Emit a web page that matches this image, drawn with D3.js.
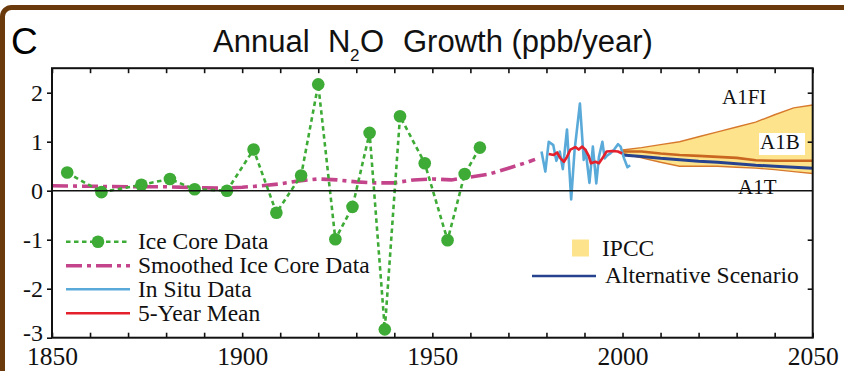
<!DOCTYPE html>
<html><head><meta charset="utf-8">
<script src="https://cdn.jsdelivr.net/npm/d3@7"></script>
<style>body{margin:0;background:#fff}</style>
</head><body><svg id="c" width="844" height="371"></svg>
<script>
// ---- data ----
const iceYears  = [1854, 1863, 1873.5, 1881, 1887.5, 1896, 1903, 1909, 1915.5, 1920, 1924.5, 1929, 1933.5, 1937.5, 1941.5, 1948, 1954, 1958.5, 1962.5];
const iceValues = [0.37, -0.03, 0.12, 0.24, 0.03, 0.0, 0.84, -0.45, 0.31, 2.17, -0.99, -0.33, 1.18, -2.83, 1.52, 0.56, -1.01, 0.34, 0.88];

const smoothYears  = [1850, 1860, 1870, 1880, 1890, 1895, 1900, 1905, 1910, 1915, 1920, 1925, 1930, 1935, 1940, 1945, 1950, 1955, 1960, 1965, 1970, 1975, 1977];
const smoothValues = [0.10, 0.09, 0.08, 0.08, 0.06, 0.05, 0.07, 0.10, 0.14, 0.20, 0.24, 0.22, 0.18, 0.16, 0.16, 0.22, 0.24, 0.22, 0.28, 0.34, 0.46, 0.58, 0.64];

const insituYears  = [1978.7, 1979.7, 1980.6, 1981.8, 1982.6, 1983.5, 1984.3, 1985.4, 1986.5, 1987.4, 1988.8, 1989.8, 1990.3, 1991.3, 1992.2, 1993.1, 1993.8, 1994.7, 1995.3, 1996.0, 1996.8, 1997.8, 1998.8, 1999.5, 2000.4, 2001.3, 2002.0];
const insituValues = [0.80, 0.39, 1.00, 0.93, 0.61, 0.80, 0.44, 1.25, -0.18, 0.83, 1.78, 0.63, 0.83, 0.16, 0.90, 0.15, 0.69, 1.00, 0.66, 0.72, 0.76, 0.84, 0.95, 0.90, 0.66, 0.48, 0.52];

const meanYears  = [1980.6, 1981.9, 1982.8, 1983.7, 1984.6, 1985.4, 1986.3, 1987.6, 1988.5, 1989.4, 1990.3, 1991.1, 1991.7, 1992.9, 1993.8, 1994.7, 1995.8, 1997.3, 1998.8, 1999.9];
const meanValues = [0.75, 0.73, 0.78, 0.66, 0.59, 0.69, 0.84, 0.89, 0.84, 0.90, 0.83, 0.71, 0.56, 0.59, 0.56, 0.66, 0.80, 0.81, 0.80, 0.76];

const scenYears  = [2000, 2005, 2010, 2015, 2020, 2025, 2030, 2035, 2040, 2045, 2050];
const a1fiValues = [0.83, 0.88, 0.94, 1.00, 1.10, 1.20, 1.30, 1.40, 1.55, 1.69, 1.75];
const a1bValues  = [0.80, 0.80, 0.76, 0.73, 0.71, 0.69, 0.67, 0.62, 0.61, 0.61, 0.61];
const a1tValues  = [0.76, 0.67, 0.58, 0.50, 0.50, 0.50, 0.48, 0.46, 0.43, 0.39, 0.35];
const altValues  = [0.73, 0.70, 0.66, 0.63, 0.60, 0.58, 0.55, 0.52, 0.50, 0.48, 0.46];

const xTickLabels = [1850, 1900, 1950, 2000, 2050];
const yTickLabels = [-3, -2, -1, 0, 1, 2];
const legendLeft  = ["Ice Core Data", "Smoothed Ice Core Data", "In Situ Data", "5-Year Mean"];
const legendRight = ["IPCC", "Alternative Scenario"];
const scenLabels  = ["A1FI", "A1B", "A1T"];

// ---- styles ----
const C = {green:"#3dab36", magenta:"#c4448b", blue:"#5aaad9", red:"#e3202b", alt:"#27438f", fill:"#fde38c", edge:"#d7792c", a1b:"#c9661f", brown:"#6b3a0c"};
const serif = "'Liberation Serif','Times New Roman',serif";
const sans = "'Liberation Sans',Arial,sans-serif";

const svg = d3.select("#c");
const x = d3.scaleLinear().domain([1850, 2050]).range([52, 812.7]);
const y = d3.scaleLinear().domain([-3, 2.5]).range([337.7, 68.2]);
const X0 = x(1850), X1 = x(2050), Y0 = y(2.5), Y1 = y(-3);

// border
svg.append("rect").attr("x", 2.5).attr("y", 7.5).attr("width", 950).attr("height", 500).attr("rx", 9)
  .attr("fill", "none").attr("stroke", C.brown).attr("stroke-width", 5);

// title
svg.append("text").attr("x", 11).attr("y", 53.5).style("font-family", sans).attr("font-size", 37).text("C");
const t = svg.append("text").attr("y", 51.5).style("font-family", sans).attr("font-size", 31).attr("fill", "#111");
t.append("tspan").attr("x", 213).text("Annual");
t.append("tspan").attr("x", 328).text("N");
t.append("tspan").attr("x", 350).attr("y", 61).attr("font-size", 17).text("2");
t.append("tspan").attr("x", 360).attr("y", 51.5).text("O");
t.append("tspan").attr("x", 403).text("Growth (ppb/year)");

// clip
svg.append("clipPath").attr("id", "clip").append("rect").attr("x", X0).attr("y", Y0).attr("width", X1 - X0).attr("height", Y1 - Y0);
const g = svg.append("g").attr("clip-path", "url(#clip)");

const line = (xs, vs) => d3.line().x((d, i) => x(xs[i])).y(d => y(d))(vs);

// IPCC band
const area = d3.area().x((d, i) => x(scenYears[i])).y0((d, i) => y(a1tValues[i])).y1(d => y(d));
g.append("path").attr("d", area(a1fiValues)).attr("fill", C.fill);
g.append("path").attr("d", line(scenYears, a1fiValues)).attr("fill", "none").attr("stroke", C.edge).attr("stroke-width", 1.4);
g.append("path").attr("d", line(scenYears, a1tValues)).attr("fill", "none").attr("stroke", C.edge).attr("stroke-width", 1.4);
g.append("path").attr("d", line(scenYears, a1bValues)).attr("fill", "none").attr("stroke", C.a1b).attr("stroke-width", 2.6);
g.append("path").attr("d", line(scenYears, altValues)).attr("fill", "none").attr("stroke", C.alt).attr("stroke-width", 3);

// zero line
svg.append("line").attr("x1", X0).attr("x2", X1).attr("y1", y(0)).attr("y2", y(0)).attr("stroke", "#111").attr("stroke-width", 1.6);

// smoothed
const smoothDash = "16 5 4 5";
g.append("path").attr("d", line(smoothYears, smoothValues)).attr("fill", "none").attr("stroke", C.magenta).attr("stroke-width", 3.6).attr("stroke-dasharray", smoothDash);

// ice core
const iceDash = "4.5 3.5";
g.append("path").attr("d", line(iceYears, iceValues)).attr("fill", "none").attr("stroke", C.green).attr("stroke-width", 2.6).attr("stroke-dasharray", iceDash);
g.selectAll("circle.ice").data(iceValues).join("circle").attr("class", "ice")
  .attr("cx", (d, i) => x(iceYears[i])).attr("cy", d => y(d)).attr("r", 6.3).attr("fill", C.green);

// in situ + mean
g.append("path").attr("d", line(insituYears, insituValues)).attr("fill", "none").attr("stroke", C.blue).attr("stroke-width", 2.6).attr("stroke-linejoin", "round");
g.append("path").attr("d", line(meanYears, meanValues)).attr("fill", "none").attr("stroke", C.red).attr("stroke-width", 2.6).attr("stroke-linejoin", "round");

// axes
const tick10 = d3.range(1850, 2051, 10);
const axB = svg.append("g").attr("transform", `translate(0,${Y1})`)
  .call(d3.axisBottom(x).tickValues(tick10).tickSize(-5).tickFormat(d => xTickLabels.includes(d) ? d : ""));
const axT = svg.append("g").attr("transform", `translate(0,${Y0})`)
  .call(d3.axisTop(x).tickValues(tick10).tickSize(-5).tickFormat(""));
const axL = svg.append("g").attr("transform", `translate(${X0},0)`)
  .call(d3.axisLeft(y).tickValues(yTickLabels).tickSize(5).tickPadding(4).tickFormat(d => d));
const axR = svg.append("g").attr("transform", `translate(${X1},0)`)
  .call(d3.axisRight(y).tickValues(yTickLabels.filter(v => v !== 0 && v !== -3)).tickSize(-5).tickFormat(""));
[axB, axT, axL, axR].forEach(a => {
  a.attr("font-family", null).attr("font-size", null);
  a.select(".domain").remove();
  a.selectAll(".tick line").attr("stroke", "#111").attr("stroke-width", 1.6);
});
axB.selectAll(".tick text").attr("y", 27.5).attr("dy", 0).style("font-family", serif).style("font-size", "25.5px").attr("fill", "#111");
axL.selectAll(".tick text").style("font-family", serif).style("font-size", "24px").attr("fill", "#111").attr("dy", "0.34em");
axL.selectAll(".tick").filter(d => d === -3).select("text").attr("dy", "0.1em");

// frame
svg.append("rect").attr("x", X0).attr("y", Y0).attr("width", X1 - X0).attr("height", Y1 - Y0)
  .attr("fill", "none").attr("stroke", "#111").attr("stroke-width", 2);

// scenario labels
svg.append("rect").attr("x", 759).attr("y", 133).attr("width", 46).attr("height", 22).attr("fill", "#fff");
const scenPos = [[722, y(1.92)], [760, y(1.0)], [738, y(0.09)]];
svg.selectAll("text.scen").data(scenLabels).join("text").attr("class", "scen")
  .attr("x", (d, i) => scenPos[i][0]).attr("y", (d, i) => scenPos[i][1]).attr("dy", "0.35em")
  .style("font-family", serif).attr("font-size", 21).attr("fill", "#111").text(d => d);

// left legend
const lgY = [241.7, 265.7, 289.3, 313.3];
const lg = svg.append("g");
lg.append("line").attr("x1", 66).attr("x2", 130).attr("y1", lgY[0]).attr("y2", lgY[0]).attr("stroke", C.green).attr("stroke-width", 2.6).attr("stroke-dasharray", iceDash);
lg.append("circle").attr("cx", 98).attr("cy", lgY[0]).attr("r", 6.3).attr("fill", C.green);
lg.append("line").attr("x1", 66).attr("x2", 130).attr("y1", lgY[1]).attr("y2", lgY[1]).attr("stroke", C.magenta).attr("stroke-width", 3.6).attr("stroke-dasharray", smoothDash);
lg.append("line").attr("x1", 66).attr("x2", 130).attr("y1", lgY[2]).attr("y2", lgY[2]).attr("stroke", C.blue).attr("stroke-width", 2.4);
lg.append("line").attr("x1", 66).attr("x2", 130).attr("y1", lgY[3]).attr("y2", lgY[3]).attr("stroke", C.red).attr("stroke-width", 2.4);
lg.selectAll("text").data(legendLeft).join("text").attr("x", 138).attr("y", (d, i) => lgY[i]).attr("dy", "0.33em")
  .style("font-family", serif).attr("font-size", 23.5).attr("fill", "#111").text(d => d);

// right legend
const rg = svg.append("g");
rg.append("rect").attr("x", 572).attr("y", 239.5).attr("width", 17).attr("height", 17).attr("fill", C.fill);
rg.append("line").attr("x1", 532).attr("x2", 596).attr("y1", 276).attr("y2", 276).attr("stroke", C.alt).attr("stroke-width", 2.6);
const rY = [248, 275], rX = [602, 605];
rg.selectAll("text").data(legendRight).join("text").attr("x", (d, i) => rX[i]).attr("y", (d, i) => rY[i]).attr("dy", "0.33em")
  .style("font-family", serif).attr("font-size", 23.5).attr("fill", "#111").text(d => d);
</script></body></html>
